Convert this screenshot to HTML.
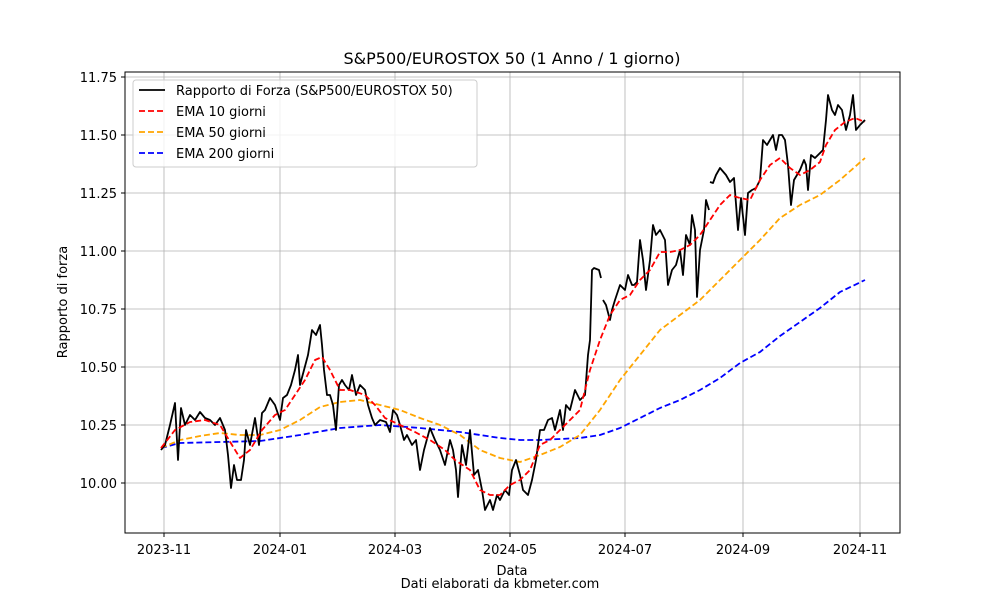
<!DOCTYPE html>
<html><head><meta charset="utf-8"><style>body{margin:0;background:#fff}svg{font-family:"DejaVu Sans","Liberation Sans",sans-serif}</style></head>
<body>
<svg width="1000" height="600" xmlns="http://www.w3.org/2000/svg">
<rect width="1000" height="600" fill="#fff"/>
<g stroke="#b0b0b0" stroke-width="0.8">
<line x1="164" y1="72" x2="164" y2="533"/><line x1="280" y1="72" x2="280" y2="533"/><line x1="395" y1="72" x2="395" y2="533"/><line x1="510" y1="72" x2="510" y2="533"/><line x1="625" y1="72" x2="625" y2="533"/><line x1="743" y1="72" x2="743" y2="533"/><line x1="860" y1="72" x2="860" y2="533"/>
<line x1="125" y1="77" x2="900" y2="77"/><line x1="125" y1="135" x2="900" y2="135"/><line x1="125" y1="193" x2="900" y2="193"/><line x1="125" y1="251" x2="900" y2="251"/><line x1="125" y1="309" x2="900" y2="309"/><line x1="125" y1="367" x2="900" y2="367"/><line x1="125" y1="425" x2="900" y2="425"/><line x1="125" y1="483" x2="900" y2="483"/>
</g>
<g fill="none" stroke-width="1.8" stroke-linejoin="round">
<polyline stroke="#0000ff" stroke-dasharray="6,3" points="161,448 180,443 220,442 260,441 300,435 340,428 380,425 420,428 460,432 480,435 500,438 520,440 540,440 580,438 600,435 620,428 640,418 660,408 680,400 700,390 720,378 740,363 760,352 780,336 800,322 820,308 840,292 865,280"/>
<polyline stroke="#ffa500" stroke-dasharray="6,3" points="161,448 180,440 200,436 220,433 240,435 260,435 280,430 300,420 320,407 340,402 360,400 380,405 400,410 420,418 440,425 460,435 480,450 500,458 520,462 540,455 560,447 580,435 600,410 620,380 640,355 660,330 680,315 700,300 720,280 740,260 760,240 780,218 800,205 820,195 840,180 865,158"/>
<polyline stroke="#000" points="161,450 165,445 170,425 175,403 178,460 181,408 185,425 190,415 195,420 200,412 205,418 210,420 215,425 220,418 225,430 228,455 231,488 234,465 237,480 241,480 244,460 246,430 250,445 255,418 259,445 262,413 265,410 270,398 275,405 280,420 283,398 287,395 291,385 295,370 298,355 300,385 304,370 308,355 312,330 316,335 320,325 322,345 324,370 327,395 330,395 333,405 336,430 339,385 342,380 345,385 349,390 352,375 356,395 360,385 365,390 368,405 372,418 375,425 380,420 386,422 390,432 393,410 397,415 400,425 404,440 407,435 412,445 416,440 420,470 424,450 430,428 435,440 440,450 445,465 450,440 453,450 456,470 458,497 462,445 466,465 470,430 474,475 478,470 482,490 485,510 490,500 493,510 497,495 500,500 505,490 509,495 512,470 516,460 520,475 523,490 528,495 532,480 536,460 540,430 544,430 548,420 552,418 555,430 560,410 563,430 566,405 570,410 575,390 580,400 585,395 588,355 590,340 592,270 594,268 599,270 601,278"/>
<polyline stroke="#000" points="603,300 606,305 610,320 612,310 615,300 620,285 625,290 628,275 632,285 634,285 637,282 640,240 643,260 646,290 650,260 653,225 656,235 660,230 665,240 668,285 672,270 676,265 680,250 683,275 686,235 690,245 692,215 695,230 697,297 700,250 704,230 706,200 709,210"/>
<polyline stroke="#000" points="710,182 713,183 716,175 720,168 726,175 730,182 734,178 738,230 741,198 745,235 748,193 752,190 756,188 760,180 763,140 767,145 770,140 773,135 776,150 779,135 782,135 785,140 788,165 791,205 794,180 797,175 800,170 804,160 806,165 808,190 811,155 815,158 818,155 823,150 826,120 828,95 832,110 835,115 838,105 842,110 846,130 850,115 853,95 856,130 860,125 865,120"/>
<polyline stroke="#ff0000" stroke-dasharray="6,3" points="161,448 175,430 190,422 205,420 220,425 232,445 240,458 250,450 262,430 275,415 285,410 295,395 305,380 315,360 322,357 330,370 340,390 350,390 365,395 375,405 385,418 400,425 415,432 430,440 445,450 455,460 470,470 480,490 490,495 500,495 510,485 520,480 530,470 540,445 550,440 560,430 570,420 580,410 590,370 600,340 610,315 620,300 630,295 640,280 650,270 660,252 670,252 680,250 690,245 700,235 710,220 720,205 730,195 740,198 750,200 760,180 770,165 780,158 790,168 800,175 810,170 820,162 826,145 835,130 845,122 855,118 865,122"/>
</g>
<rect x="125" y="72" width="775" height="461" fill="none" stroke="#000" stroke-width="1"/>
<g stroke="#000"><line x1="164" y1="533" x2="164" y2="537"/><line x1="280" y1="533" x2="280" y2="537"/><line x1="395" y1="533" x2="395" y2="537"/><line x1="510" y1="533" x2="510" y2="537"/><line x1="625" y1="533" x2="625" y2="537"/><line x1="743" y1="533" x2="743" y2="537"/><line x1="860" y1="533" x2="860" y2="537"/>
<line x1="121" y1="77" x2="125" y2="77"/><line x1="121" y1="135" x2="125" y2="135"/><line x1="121" y1="193" x2="125" y2="193"/><line x1="121" y1="251" x2="125" y2="251"/><line x1="121" y1="309" x2="125" y2="309"/><line x1="121" y1="367" x2="125" y2="367"/><line x1="121" y1="425" x2="125" y2="425"/><line x1="121" y1="483" x2="125" y2="483"/></g>
<g font-size="13" text-anchor="middle"><text x="164" y="554">2023-11</text><text x="280" y="554">2024-01</text><text x="395" y="554">2024-03</text><text x="510" y="554">2024-05</text><text x="625" y="554">2024-07</text><text x="743" y="554">2024-09</text><text x="860" y="554">2024-11</text>
<text x="512" y="575">Data</text><text x="500" y="588">Dati elaborati da kbmeter.com</text>
<text x="512" y="64" font-size="16">S&amp;P500/EUROSTOX 50 (1 Anno / 1 giorno)</text>
<text transform="translate(67,302) rotate(-90)">Rapporto di forza</text></g>
<g font-size="13" text-anchor="end"><text x="117" y="82">11.75</text><text x="117" y="140">11.50</text><text x="117" y="198">11.25</text><text x="117" y="256">11.00</text><text x="117" y="314">10.75</text><text x="117" y="372">10.50</text><text x="117" y="430">10.25</text><text x="117" y="488">10.00</text></g>
<rect x="133" y="80" width="344" height="87" rx="3" fill="#fff" fill-opacity="0.8" stroke="#ccc"/>
<g stroke-width="1.8"><line x1="139" y1="90" x2="165" y2="90" stroke="#000"/><line x1="139" y1="111" x2="165" y2="111" stroke="#f00" stroke-dasharray="6,3"/><line x1="139" y1="132" x2="165" y2="132" stroke="#ffa500" stroke-dasharray="6,3"/><line x1="139" y1="153" x2="165" y2="153" stroke="#00f" stroke-dasharray="6,3"/></g>
<g font-size="13"><text x="176" y="95">Rapporto di Forza (S&amp;P500/EUROSTOX 50)</text><text x="176" y="116">EMA 10 giorni</text><text x="176" y="137">EMA 50 giorni</text><text x="176" y="158">EMA 200 giorni</text></g>
</svg>
</body></html>
